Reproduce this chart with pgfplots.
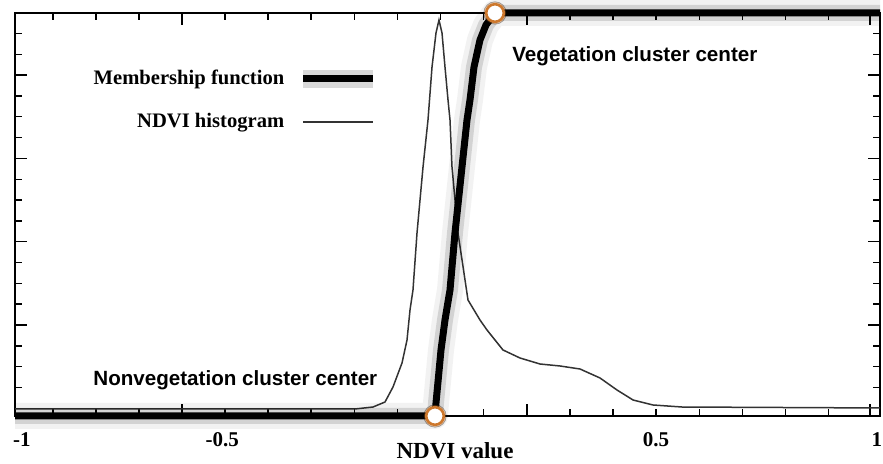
\documentclass[border=0pt]{standalone}
\usepackage{pgfplots}
\pgfplotsset{compat=1.18}
\usepackage{pgfplotstable}
\usepackage{fontspec}
\setmainfont{Liberation Serif}
\newfontfamily\arial{Liberation Sans}
\definecolor{ring}{RGB}{205,120,45}

% NDVI histogram (relative frequency)
\pgfplotstableread{
x y
-1.0000 0.0174
-0.2139 0.0174
-0.1723 0.0223
-0.1445 0.0347
-0.1260 0.0720
-0.1052 0.1315
-0.0936 0.1886
-0.0867 0.2630
-0.0798 0.3127
-0.0705 0.4541
-0.0566 0.6179
-0.0451 0.7345
-0.0358 0.8660
-0.0266 0.9504
-0.0197 0.9826
-0.0127 0.9504
-0.0058 0.8660
 0.0012 0.7841
 0.0058 0.7345
 0.0104 0.6179
 0.0243 0.4541
 0.0474 0.2878
 0.0751 0.2382
 0.0913 0.2134
 0.1283 0.1638
 0.1676 0.1439
 0.2139 0.1290
 0.2601 0.1241
 0.3064 0.1166
 0.3526 0.0943
 0.3919 0.0645
 0.4290 0.0397
 0.4752 0.0273
 0.5422 0.0223
 1.0000 0.0199
}\hist

% membership function
\pgfplotstableread{
x y
-1.0000 0
-0.0289 0
-0.0266 0.0323
-0.0150 0.1638
-0.0058 0.2382
 0.0058 0.3127
 0.0173 0.4541
 0.0335 0.6179
 0.0451 0.7345
 0.0520 0.7841
 0.0613 0.8660
 0.0751 0.9330
 0.0890 0.9702
 0.1098 1
 1.0000 1
}\memb

\begin{document}
\begin{tikzpicture}
\begin{axis}[
  scale only axis,
  width=432.5pt, height=201.5pt,
  xmin=-1, xmax=1, ymin=0, ymax=1,
  clip=false,
  axis line style={line width=0.9pt},
  tick align=inside,
  tick style={black, line width=0.7pt},
  major tick length=6pt, minor tick length=3.5pt,
  xtick={-0.6139,0.1838,0.9769},
  minor xtick={-0.9126,-0.8130,-0.7135,-0.5143,-0.4148,-0.3152,-0.2156,-0.1160,-0.0165,0.0831,0.2834,0.3830,0.4825,0.5821,0.6817,0.7812,0.8808},
  xticklabels={},
  extra x ticks={-0.984,-0.521,0.482,0.993},
  extra x tick labels={-1,-0.5,0.5,1},
  extra x tick style={major tick length=0pt},
  xticklabel style={font=\bfseries\fontsize{10.5}{11}\selectfont, anchor=center, yshift=-12pt},
  ytick={0.2258,0.4325,0.6392,0.8459},
  minor ytick={0.0708,0.1225,0.1741,0.2775,0.3291,0.3808,0.4842,0.5358,0.5875,0.6908,0.7425,0.7942,0.8975,0.9492},
  yticklabels={},
  xlabel={NDVI value},
  xlabel style={at={(axis description cs:0.5087,0)}, anchor=center, yshift=-17.5pt,
                font=\bfseries\fontsize{11.5}{12}\selectfont},
  reverse legend,
  legend image code/.code={\draw[#1] (0pt,0pt) -- (35pt,0pt);},
  legend style={at={(axis description cs:0.432,0.880)}, anchor=north east,
                draw=none, fill=none, legend cell align=right,
                legend plot pos=right, row sep=9pt, column sep=3pt,
                font=\bfseries\fontsize{10.3}{11}\selectfont},
]
\coordinate (sw) at (rel axis cs:0,0);
\coordinate (ne) at (rel axis cs:1,1);

\addplot[black!80, line width=0.75pt] table[x=x, y=y] {\hist};
\addlegendentry{NDVI histogram}

\addplot[black, opacity=0.05, line width=13pt, line join=round, forget plot] table[x=x, y=y] {\memb};
\addplot[black, opacity=0.13, line width=8pt, line join=round, forget plot] table[x=x, y=y] {\memb};
\addplot[black, line width=3.5pt, line join=round,
  legend image code/.code={\draw[black, opacity=0.15, line width=9pt] (0pt,0pt) -- (35pt,0pt);
                           \draw[black, line width=3.5pt] (0pt,0pt) -- (35pt,0pt);}]
  table[x=x, y=y] {\memb};
\addlegendentry{Membership function}

\addplot[only marks, mark=*, mark size=5.6pt, forget plot,
  mark options={draw=none, fill=ring, opacity=0.3}]
  coordinates {(-0.0289,0) (0.1098,1)};
\addplot[only marks, mark=*, mark size=4.4pt, forget plot,
  mark options={fill=white, draw=ring, line width=1.3pt}]
  coordinates {(-0.0289,0) (0.1098,1)};

\node[anchor=west, inner sep=0pt, font=\arial\bfseries\fontsize{10.3}{12}\selectfont]
  at (axis cs:0.1491,0.893) {Vegetation cluster center};
\node[anchor=west, inner sep=0pt, font=\arial\bfseries\fontsize{10.3}{12}\selectfont]
  at (axis cs:-0.8197,0.0893) {Nonvegetation cluster center};
\end{axis}
\pgfresetboundingbox
\path[use as bounding box] ([xshift=-7.5pt,yshift=-24pt]sw) rectangle ([xshift=1.5pt,yshift=6.5pt]ne);
\end{tikzpicture}
\end{document}
